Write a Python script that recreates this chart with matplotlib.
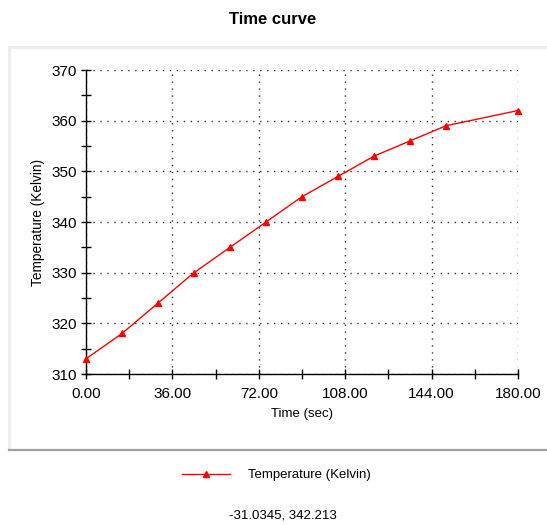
import matplotlib
matplotlib.use("Agg")
import matplotlib.pyplot as plt
from matplotlib.lines import Line2D
from matplotlib.ticker import MultipleLocator, FormatStrFormatter

plt.rcParams['font.family'] = ['Liberation Sans', 'DejaVu Sans']

time_sec = [0, 15, 30, 45, 60, 75, 90, 105, 120, 135, 150, 180]
temperature_k = [313, 318, 324, 330, 335, 340, 345, 349, 353, 356, 359, 362]
series_label = "Temperature (Kelvin)"
title = "Time curve"
xlabel = "Time (sec)"
ylabel = "Temperature (Kelvin)"
status_text = "-31.0345, 342.213"

W, H = 547, 525
fig = plt.figure(figsize=(W / 100, H / 100), dpi=100)
fig.patch.set_facecolor("white")

# panel borders
fig.add_artist(Line2D([9 / W, 1.0], [1 - 47 / H, 1 - 47 / H], color="#ececec", lw=2))
fig.add_artist(Line2D([9 / W, 9 / W], [1 - 47 / H, 1 - 449 / H], color="#ececec", lw=2))
fig.add_artist(Line2D([9 / W, 1.0], [1 - 449.5 / H, 1 - 449.5 / H], color="#a0a0a0", lw=1.6))

ax = fig.add_axes([86 / W, 1 - 374 / H, (518 - 86) / W, (374 - 70) / H])
ax.plot(time_sec, temperature_k, color="#ff0000", lw=1, marker="^", ms=5,
        markeredgecolor="#ff0000", markerfacecolor="#ff0000", label=series_label,
        clip_on=False, zorder=5)

ax.set_xlim(0, 180)
ax.set_ylim(310, 370)
ax.xaxis.set_major_locator(MultipleLocator(36))
ax.xaxis.set_minor_locator(MultipleLocator(18))
ax.yaxis.set_major_locator(MultipleLocator(10))
ax.yaxis.set_minor_locator(MultipleLocator(5))
ax.xaxis.set_major_formatter(FormatStrFormatter("%.2f"))
ax.yaxis.set_major_formatter(FormatStrFormatter("%d"))

for s in ["top", "right"]:
    ax.spines[s].set_visible(False)
for s in ["left", "bottom"]:
    ax.spines[s].set_color("black")
    ax.spines[s].set_linewidth(1)

ax.tick_params(axis="both", which="both", direction="inout", length=7, width=1,
               colors="black", labelsize=11)
ax.tick_params(axis="x", which="major", pad=6)
ax.tick_params(axis="y", which="major", pad=3)

ax.grid(True, which="major", color="#303030", lw=1, linestyle=(0, (1, 4)))
ax.set_axisbelow(True)

ax.set_xlabel(xlabel, fontsize=9.5, labelpad=5)
ax.set_ylabel(ylabel, fontsize=9.8, labelpad=5)

fig.text(273 / W, 1 - 20 / H, title, ha="center", va="center",
         fontsize=12, fontweight="bold")

leg = fig.legend(handles=ax.get_lines(), labels=[series_label], loc="center",
                 bbox_to_anchor=(276 / W, 1 - 475 / H), frameon=False,
                 fontsize=9.5, handlelength=3.7, handletextpad=1.3, markerscale=0.8)

fig.text(283 / W, 1 - 516 / H, status_text, ha="center", va="center", fontsize=9.5)

fig.savefig("out.png", dpi=100)
